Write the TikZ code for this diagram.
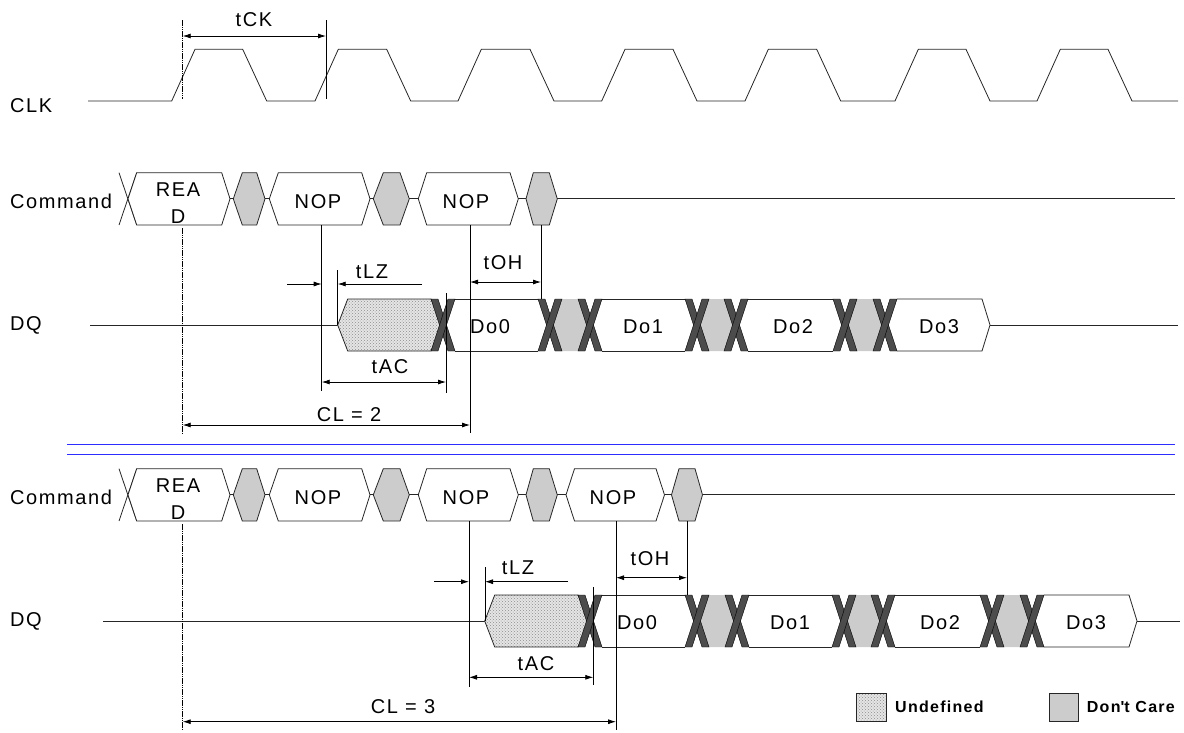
\documentclass[tikz,border=0pt]{standalone}
\usepackage{fontspec}
\setmainfont{Liberation Sans}
\newfontfamily\lblfont[LetterSpace=8]{Liberation Sans}
\usetikzlibrary{arrows.meta,patterns}
\definecolor{sepblue}{RGB}{45,45,255}

\tikzset{
  wave/.style={line width=0.8pt, black!85},
  cmdbox/.style={draw=black!85, line width=0.8pt, fill=white},
  dcbox/.style={draw=black!85, line width=0.8pt, fill=black!20},
  undefbox/.style={draw=black!85, line width=0.8pt, preaction={fill=black!10},
    pattern=crosshatch dots, pattern color=black!45},
  xband/.style={fill=black!70, draw=black, line width=0.4pt},
  dimline/.style={line width=0.8pt, {Latex[length=8pt,width=5pt]}-{Latex[length=8pt,width=5pt]}},
  dimarrow/.style={line width=0.8pt, -{Latex[length=8pt,width=5pt]}},
  guide/.style={line width=0.8pt},
  readguide/.style={line width=0.8pt, dash pattern=on 1.5pt off 0.7pt},
  sepline/.style={line width=0.9pt, sepblue},
  lbl/.style={inner sep=0pt, font=\lblfont\fontsize{20}{26.7}\selectfont},
  legendlbl/.style={inner sep=0pt, anchor=west, font=\lblfont\fontsize{16}{18}\selectfont\bfseries},
}

% 六边形: 样式, 左尖, 左上, 右上, 右尖, 上沿, 下沿
\newcommand{\hexshape}[7]{%
  \draw[#1] (#2,{(#6+#7)/2}) -- (#3,#6) -- (#4,#6) -- (#5,{(#6+#7)/2}) -- (#4,#7) -- (#3,#7) -- cycle;}
% 数据线上的交叉
\newcommand{\xcross}[2]{%
  \filldraw[xband] (#1,299) -- ({#1+7},299) -- (#2,351) -- ({#2-7},351) -- cycle;
  \filldraw[xband] ({#2-7},299) -- (#2,299) -- ({#1+7},351) -- (#1,351) -- cycle;}
% 两个交叉之间的灰色区
\newcommand{\dqgap}[4]{%
  \fill[black!20] ({(#1+#2)/2},325) -- (#2,299) -- (#3,299) -- ({(#3+#4)/2},325) -- (#3,351) -- (#2,351) -- cycle;
  \xcross{#1}{#2}
  \xcross{#3}{#4}}
% 命令行公共部分
\newcommand{\cmdrow}[1]{%
  \draw[wave] (119,172.7) -- (136.7,225) (119,225) -- (136.7,172.7);
  \hexshape{cmdbox}{128}{136.7}{221.7}{230}{172.7}{225}
  \hexshape{dcbox}{233.3}{242.3}{256.7}{265}{172.7}{225}
  \hexshape{cmdbox}{269.3}{278.3}{361.7}{370}{172.7}{225}
  \hexshape{dcbox}{373.3}{383.3}{400}{409.3}{172.7}{225}
  \hexshape{cmdbox}{418.3}{426.7}{510}{518.3}{172.7}{225}
  \hexshape{dcbox}{526}{533.3}{549.3}{557.3}{172.7}{225}
  \draw[wave] (230,198.85) -- (233.3,198.85) (265,198.85) -- (269.3,198.85)
    (370,198.85) -- (373.3,198.85) (409.3,198.85) -- (418.3,198.85)
    (518.3,198.85) -- (526,198.85);
  \node[lbl, anchor=west] (#1cmd) at (10,201.7) {Command};
  \node[lbl, align=center] (#1read) at (178,203.3) {REA\\D};
  \node[lbl] (#1nop1) at (318,201.7) {NOP};
  \node[lbl] (#1nop2) at (466,201.7) {NOP};}
% 数据行公共部分
\newcommand{\dqbody}[1]{%
  \draw[undefbox] (337.7,325) -- (347.7,299) -- (431,299) -- (443,325) -- (431,351) -- (347.7,351) -- cycle;
  \draw[wave] (455,299) -- (538,299) (455,351) -- (538,351);
  \draw[wave] (602,299) -- (685,299) (602,351) -- (685,351);
  \draw[wave] (748,299) -- (833,299) (748,351) -- (833,351);
  \draw[wave] (897,299) -- (982,299) -- (990,325) -- (982,351) -- (897,351);
  \xcross{431}{455}
  \dqgap{538}{562}{578}{602}
  \dqgap{685}{709}{724}{748}
  \dqgap{833}{857}{873}{897}
  \node[lbl] (#1do0) at (490,327) {Do0};
  \node[lbl] (#1do1) at (643,327) {Do1};
  \node[lbl] (#1do2) at (793,327) {Do2};
  \node[lbl] (#1do3) at (939,327) {Do3};}

\begin{document}
\begin{tikzpicture}[x=1pt, y=-1pt]
  \useasboundingbox (0,0) rectangle (1184,732);

  % 时钟
  \node[lbl, anchor=west] (clk) at (10,106) {CLK};
  \draw[wave] (88,101) foreach \r/\f in {171.7/242.7, 315/386.7, 458/530, 601.7/673,
      745/816.7, 895/966, 1037/1108} { -- (\r,101) -- ({\r+23.3},49.3) -- (\f,49.3) -- ({\f+24},101) }
    -- (1178,101);
  % tCK
  \draw[readguide] (182.7,20) -- (182.7,99);
  \draw[guide] (326,20) -- (326,99);
  \coordinate (ckL) at (182.7,36);
  \coordinate (ckR) at (326,36);
  \draw[dimline] (ckL) -- (ckR);
  \node[lbl] (tck) at (254,20) {tCK};

  % 第一组: CL = 2
  \cmdrow{a}
  \draw[wave] (557.3,198.85) -- (1175,198.85);
  \node[lbl, anchor=west] (dqa) at (10,325) {DQ};
  \draw[wave] (90,325) -- (337.7,325);
  \dqbody{a}
  \draw[wave] (990,325) -- (1178,325);
  % 辅助竖线
  \draw[readguide] (182.7,228) -- (182.7,433);
  \draw[guide] (321.7,225) -- (321.7,391);
  \draw[guide] (470,225) -- (470,433);
  \draw[guide] (541,225) -- (541,299);
  \draw[guide] (337.7,270) -- (337.7,325);
  \draw[guide] (446,293) -- (446,393);
  % 时间标注
  \coordinate (lzaS) at (287,284);
  \coordinate (lzaA) at (321.7,284);
  \coordinate (lzaT) at (422,284);
  \coordinate (lzaB) at (337.7,284);
  \draw[dimarrow] (lzaS) -- (lzaA);
  \draw[dimarrow] (lzaT) -- (lzaB);
  \node[lbl] (tlza) at (372,272) {tLZ};
  \coordinate (ohaL) at (470,282);
  \coordinate (ohaR) at (541,282);
  \draw[dimline] (ohaL) -- (ohaR);
  \node[lbl] (toha) at (503,263) {tOH};
  \coordinate (acaL) at (321.7,382);
  \coordinate (acaR) at (446,382);
  \draw[dimline] (acaL) -- (acaR);
  \node[lbl] (taca) at (390,367) {tAC};
  \coordinate (claL) at (182.7,425);
  \coordinate (claR) at (470,425);
  \draw[dimline] (claL) -- (claR);
  \node[lbl] (cla) at (349,415) {CL = 2};

  % 分隔线
  \draw[sepline] (67,444) -- (1175,444);
  \draw[sepline] (67,454.6) -- (1175,454.6);

  % 第二组: CL = 3
  \begin{scope}[shift={(0,296)}]
    \cmdrow{b}
    \hexshape{cmdbox}{566}{574.5}{656}{664.5}{172.7}{225}
    \hexshape{dcbox}{671.5}{679}{695}{702.5}{172.7}{225}
    \draw[wave] (557.3,198.85) -- (566,198.85) (664.5,198.85) -- (671.5,198.85)
      (702.5,198.85) -- (1175,198.85);
    \node[lbl] (bnop3) at (613,201.7) {NOP};
  \end{scope}
  \node[lbl, anchor=west] (dqb) at (10,621) {DQ};
  \draw[wave] (103,621) -- (485,621);
  \begin{scope}[shift={(147,296)}]
    \dqbody{b}
  \end{scope}
  \draw[wave] (1137,621) -- (1180,621);
  % 辅助竖线
  \draw[readguide] (182.7,524) -- (182.7,730);
  \draw[guide] (469,521) -- (469,687);
  \draw[guide] (616,521) -- (616,730);
  \draw[guide] (687,521) -- (687,595);
  \draw[guide] (485,567) -- (485,621);
  \draw[guide] (593.3,587) -- (593.3,685);
  % 时间标注
  \coordinate (lzbS) at (434,581.7);
  \coordinate (lzbA) at (469,581.7);
  \coordinate (lzbT) at (568,581.7);
  \coordinate (lzbB) at (485,581.7);
  \draw[dimarrow] (lzbS) -- (lzbA);
  \draw[dimarrow] (lzbT) -- (lzbB);
  \node[lbl] (tlzb) at (518,568) {tLZ};
  \coordinate (ohbL) at (616,577.7);
  \coordinate (ohbR) at (687,577.7);
  \draw[dimline] (ohbL) -- (ohbR);
  \node[lbl] (tohb) at (650,559) {tOH};
  \coordinate (acbL) at (469,677.3);
  \coordinate (acbR) at (593.3,677.3);
  \draw[dimline] (acbL) -- (acbR);
  \node[lbl] (tacb) at (536,664) {tAC};
  \coordinate (clbL) at (182.7,721.7);
  \coordinate (clbR) at (616,721.7);
  \draw[dimline] (clbL) -- (clbR);
  \node[lbl] (clb) at (403,707) {CL = 3};

  % 图例
  \draw[undefbox] (856.7,693) rectangle (886.7,721.7);
  \node[legendlbl] (undef) at (895,707) {Undefined};
  \draw[dcbox] (1049.3,693) rectangle (1078.3,721.7);
  \node[legendlbl] (dontcare) at (1086.7,707) {Don\textquotesingle t Care};
\end{tikzpicture}
\end{document}
